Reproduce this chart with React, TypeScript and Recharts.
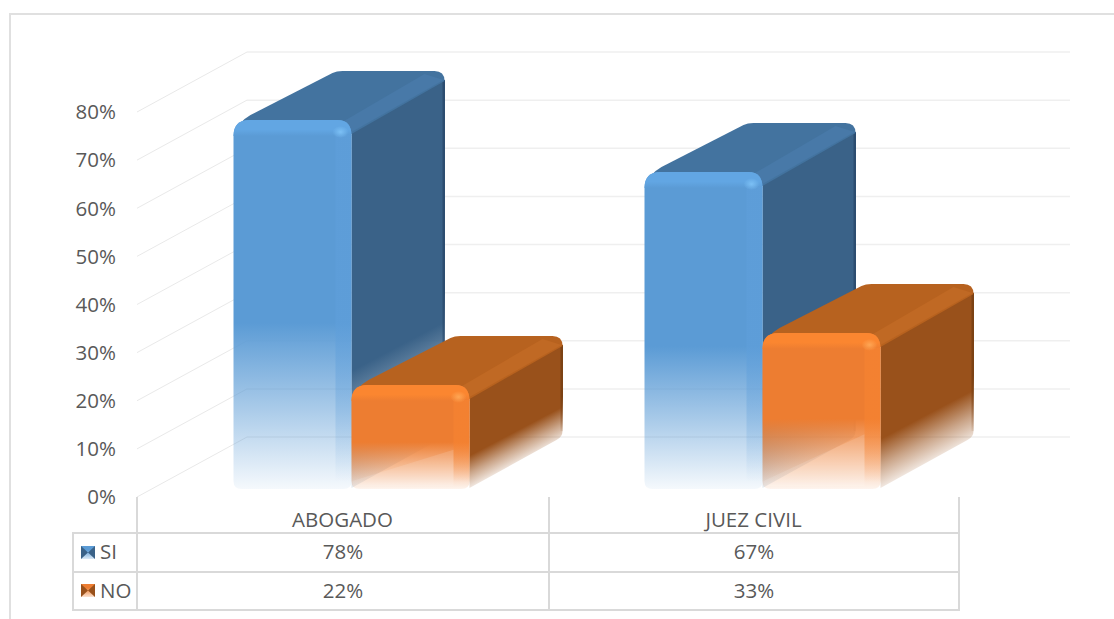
import { BarChart, Bar, XAxis, YAxis, CartesianGrid } from 'recharts';

const categories = ['ABOGADO', 'JUEZ CIVIL'];
const siValues = [78, 67];
const noValues = [22, 33];
const yTicks = [0, 10, 20, 30, 40, 50, 60, 70, 80];

const chartData = categories.map((name, i) => ({ name, SI: siValues[i], NO: noValues[i] }));

const FONT = '"Open Sans", sans-serif';
const FONT_SIZE = 20.5;
const TEXT = '#595959';
const LINE = '#D9D9D9';

const blue = { key: 'SI', front: '#5B9BD5', bevel: '#5F9FDB', hi: '#7CC0F5', lip: '#62A6E3', top: '#43739F', topHi: '#4879A8', side: '#3A6288', edge: '#2C4D70' };
const orange = { key: 'NO', front: '#ED7D31', bevel: '#F88431', hi: '#FFA654', lip: '#FB8630', top: '#B7621F', topHi: '#C06924', side: '#99511B', edge: '#7C4214' };

const DEPTH_X = 93;
const DEPTH_Y = -49;
const SHIFT = 8.5;
// the boxes stand a little in front of the wall the axis measures
const FLOOR_LIFT = 8;
const FRONT_SCALE = 0.983;

const FadeStops = ({ color, start, end }: { color: string; start: number; end: number }) => (
  <>
    <stop offset={start} stopColor={color} stopOpacity={1} />
    <stop offset={start + (1 - start) * 0.52} stopColor={color} stopOpacity={0.52} />
    <stop offset={1} stopColor={color} stopOpacity={end} />
  </>
);

// one box: side, top, then front, from the bar rectangle the library gives
const Box3D = (props: any) => {
  const { x, y, width, height, index, palette } = props;
  const h = height * FRONT_SCALE;
  const bot = y + height - FLOOR_LIFT;
  const top = bot - h;
  const xl = x + SHIFT;
  const xr = xl + width;
  const bx = xr + DEPTH_X;
  const ty = top + DEPTH_Y;
  const by = bot + DEPTH_Y;
  const sideId = `side-${palette.key}-${index}`;
  const slope = DEPTH_Y / DEPTH_X;
  const rise = h * 0.3;

  return (
    <g>
      <defs>
        <linearGradient
          id={sideId}
          gradientUnits="userSpaceOnUse"
          x1={xr}
          y1={top}
          x2={xr}
          y2={bot}
          gradientTransform={`matrix(1 ${slope} 0 1 0 ${-xr * slope})`}
        >
          <FadeStops color={palette.side} start={0.68} end={0.12} />
        </linearGradient>
      </defs>
      <path
        d={`M${xr},${top + 6} L${bx - 4},${ty + 5} Q${bx},${ty + 6} ${bx},${ty + 11} L${bx},${by - 9} Q${bx},${by - 3} ${bx - 6},${by} L${xr},${bot - 1} Z`}
        fill={`url(#${sideId})`}
      />
      <rect x={bx - 2} y={ty + 9} width={2.5} height={h - 18} fill={`url(#edge-${palette.key})`} />
      <path
        d={`M${xl + 2},${top + 14} Q${xl + 3},${top + 3} ${xl + 17},${top - 5} L${xl + DEPTH_X + 6},${ty + 2} Q${xl + DEPTH_X + 10},${ty} ${xl + DEPTH_X + 16},${ty} L${bx - 10},${ty} Q${bx},${ty} ${bx},${ty + 10} L${xr},${top + 14} Z`}
        fill={palette.top}
      />
      <path d={`M${bx - 1},${ty + 9} L${xr},${top + 12} L${xr - 16},${top + 6} L${bx - 20},${ty + 3} Z`} fill={palette.topHi} />
      <path
        d={`M${xl},${top + 16} Q${xl},${top} ${xl + 16},${top} L${xr - 14},${top} Q${xr},${top} ${xr},${top + 16} L${xr},${bot - 8} Q${xr},${bot} ${xr - 8},${bot} L${xl + 8},${bot} Q${xl},${bot} ${xl},${bot - 8} Z`}
        fill={`url(#face-${palette.key})`}
      />
      <path
        d={`M${xl},${top + 16} Q${xl},${top} ${xl + 16},${top} L${xr - 14},${top} Q${xr},${top} ${xr},${top + 16} Z`}
        fill={`url(#lip-${palette.key})`}
      />
      <rect x={xr - 16} y={top + 15} width={16} height={h - 22} fill={`url(#bevel-${palette.key})`} opacity={0.55} />
      <ellipse cx={xr - 11} cy={top + 12} rx={8} ry={6} fill={`url(#glow-${palette.key})`} />
      {palette.key === 'NO' && (
        <path
          d={`M${xl + 1},${bot - 8} L${xr - 16},${bot - 8 - rise} L${xr - 16},${bot - 3} L${xl + 1},${bot - 3} Z`}
          fill="#fff"
          opacity={0.13}
        />
      )}
    </g>
  );
};

// side wall and back wall line for one grid level
const WallLine = ({ y1 }: any) => (
  <g>
    <line x1={137} y1={y1} x2={247} y2={y1 - 60} stroke="#E9E9E9" strokeWidth={1} />
    <line x1={247} y1={y1 - 60} x2={1070} y2={y1 - 60} stroke="#EFEFEF" strokeWidth={1.5} />
  </g>
);

const LegendKey = ({ y, palette }: { y: number; palette: typeof blue }) => (
  <g>
    <rect x={81} y={y} width={14} height={13} fill={`url(#key-${palette.key})`} />
    <polygon points={`81,${y} 88,${y + 6.5} 81,${y + 13}`} fill={palette.side} />
    <polygon points={`95,${y} 88,${y + 6.5} 95,${y + 13}`} fill={palette.side} />
  </g>
);

const DataTable = () => {
  const cols = [137, 549, 959];
  const rows = [533, 572, 610];
  const cellText = { fontFamily: FONT, fontSize: FONT_SIZE, fill: TEXT };
  return (
    <svg width={1114} height={619} style={{ position: 'absolute', left: 0, top: 0, pointerEvents: 'none' }}>
      <defs>
        <linearGradient id="key-SI" x1="0" y1="0" x2="0" y2="1">
          <stop offset="0.3" stopColor={blue.front} />
          <stop offset="1" stopColor="#DCEAF7" />
        </linearGradient>
        <linearGradient id="key-NO" x1="0" y1="0" x2="0" y2="1">
          <stop offset="0.3" stopColor={orange.front} />
          <stop offset="1" stopColor="#FBE3D2" />
        </linearGradient>
      </defs>
      {cols.map((c) => (
        <line key={c} x1={c} y1={497} x2={c} y2={610} stroke={LINE} strokeWidth={2} />
      ))}
      <line x1={73} y1={533} x2={73} y2={610} stroke={LINE} strokeWidth={2} />
      {rows.map((r) => (
        <line key={r} x1={72} y1={r} x2={960} y2={r} stroke={LINE} strokeWidth={2} />
      ))}
      <LegendKey y={546} palette={blue} />
      <LegendKey y={584} palette={orange} />
      <text x={100} y={559} {...cellText}>SI</text>
      <text x={100} y={598} {...cellText}>NO</text>
      {categories.map((name, i) => (
        <g key={name}>
          <text x={343 + i * 411} y={559} textAnchor="middle" {...cellText}>{siValues[i]}%</text>
          <text x={343 + i * 411} y={598} textAnchor="middle" {...cellText}>{noValues[i]}%</text>
        </g>
      ))}
    </svg>
  );
};

const gradientFor = (p: typeof blue, end: number) => (
  <>
    <linearGradient id={`face-${p.key}`} x1="0" y1="0" x2="0" y2="1">
      <FadeStops color={p.front} start={0.55} end={end} />
    </linearGradient>
    <linearGradient id={`bevel-${p.key}`} x1="0" y1="0" x2="0" y2="1">
      <FadeStops color={p.bevel} start={0.55} end={0} />
    </linearGradient>
    <linearGradient id={`edge-${p.key}`} x1="0" y1="0" x2="0" y2="1">
      <FadeStops color={p.edge} start={0.6} end={0.1} />
    </linearGradient>
    <linearGradient id={`lip-${p.key}`} x1="0" y1="0" x2="0" y2="1">
      <stop offset="0" stopColor={p.lip} />
      <stop offset="0.6" stopColor={p.lip} />
      <stop offset="1" stopColor={p.front} />
    </linearGradient>
    <radialGradient id={`glow-${p.key}`}>
      <stop offset="0" stopColor={p.hi} />
      <stop offset="1" stopColor={p.hi} stopOpacity={0} />
    </radialGradient>
  </>
);

const App = () => (
  <div style={{ position: 'absolute', left: 0, top: 0, width: 1114, height: 619, overflow: 'hidden', background: '#fff' }}>
    <div style={{ position: 'absolute', left: 9, top: 13, width: 1200, height: 700, border: '2px solid #E0E0E0' }} />
    <div style={{ position: 'absolute', left: 0, top: 0 }}>
      <BarChart
        width={1114}
        height={619}
        data={chartData}
        margin={{ top: 112, right: 155, bottom: 92, left: 77 }}
        barSize={118}
        barGap={0}
      >
        <defs>
          {gradientFor(blue, 0.06)}
          {gradientFor(orange, 0.08)}
        </defs>
        <CartesianGrid vertical={false} horizontal={(p: any) => <WallLine key={p.index} {...p} />} />
        <YAxis
          width={60}
          domain={[0, 80]}
          ticks={yTicks}
          interval={0}
          axisLine={false}
          tickLine={false}
          tickMargin={15}
          tick={{ fontFamily: FONT, fontSize: FONT_SIZE, fill: TEXT }}
          tickFormatter={(v: number) => `${v}%`}
        />
        <XAxis
          dataKey="name"
          axisLine={false}
          tickLine={false}
          tickMargin={9}
          interval={0}
          tick={{ fontFamily: FONT, fontSize: FONT_SIZE, fill: TEXT }}
        />
        <Bar dataKey="SI" isAnimationActive={false} shape={(p: any) => <Box3D {...p} palette={blue} />} />
        <Bar dataKey="NO" isAnimationActive={false} shape={(p: any) => <Box3D {...p} palette={orange} />} />
      </BarChart>
    </div>
    <DataTable />
  </div>
);

export default App;
